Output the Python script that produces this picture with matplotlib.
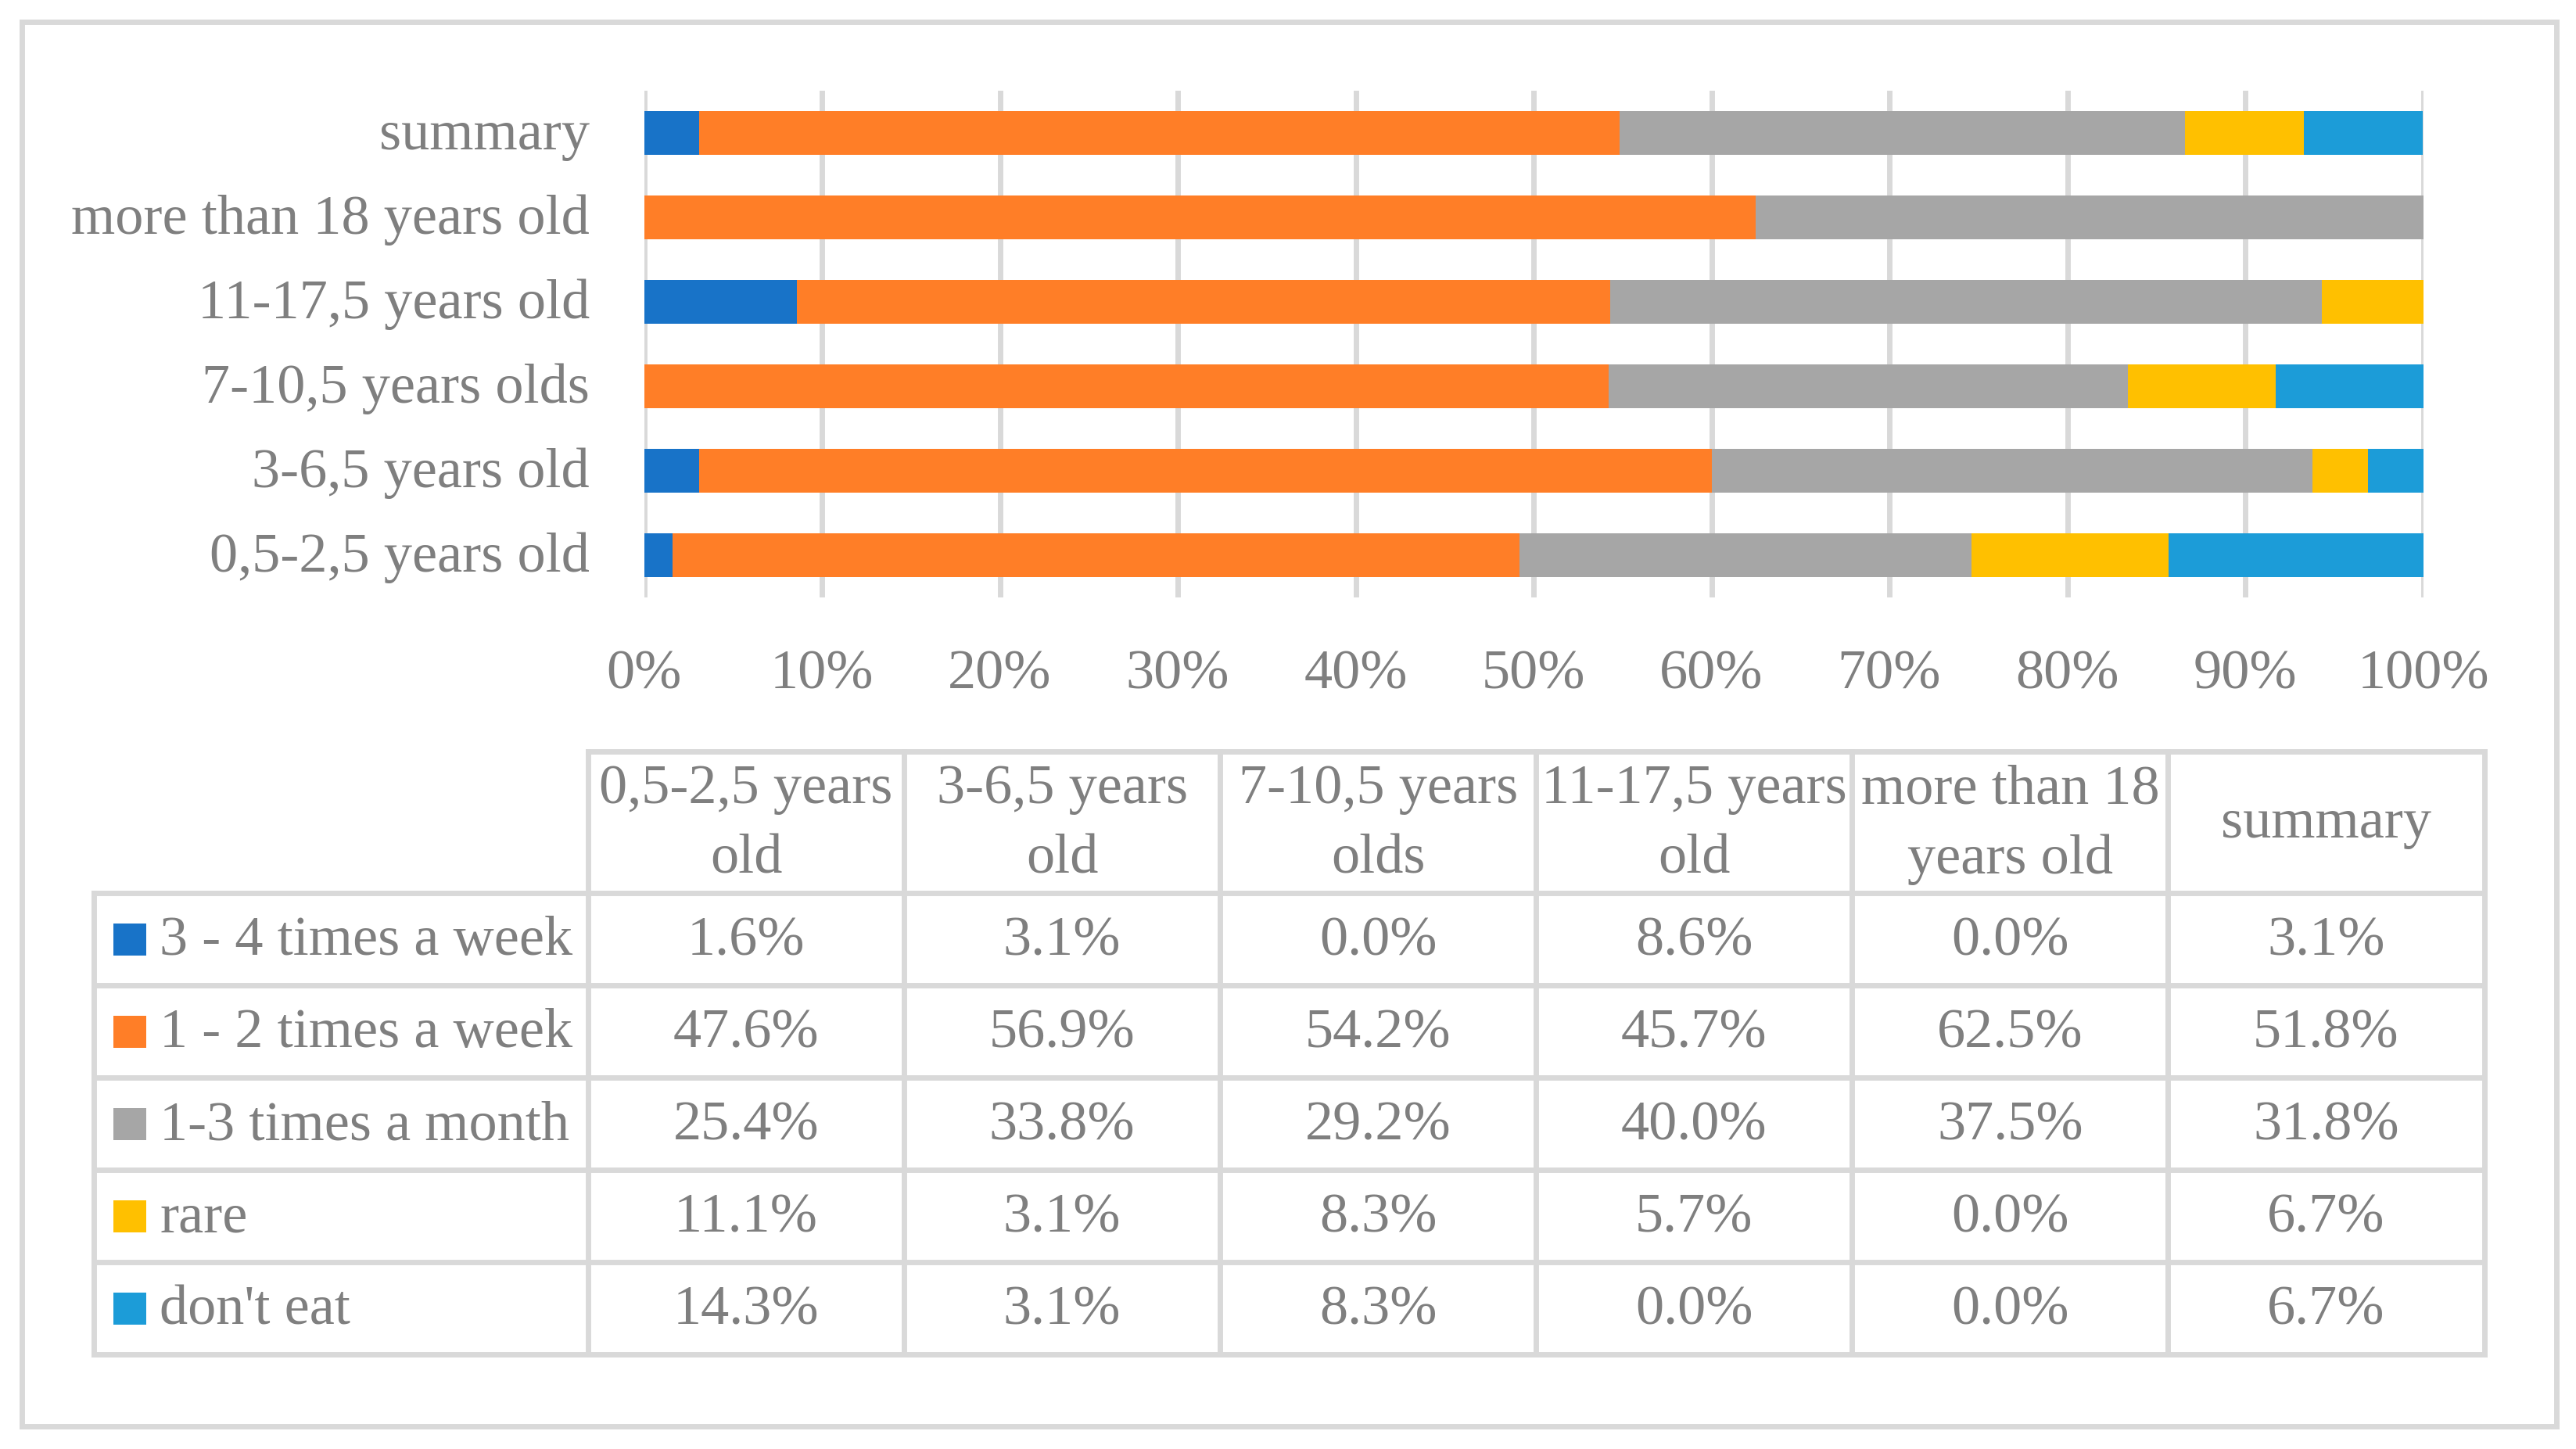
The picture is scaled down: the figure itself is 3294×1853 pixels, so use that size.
import matplotlib
matplotlib.use("Agg")
import matplotlib.pyplot as plt
import matplotlib.transforms as mtransforms
from matplotlib.patches import Rectangle
import numpy as np

# ---------------- data ----------------
categories = ["0,5-2,5 years old", "3-6,5 years old", "7-10,5 years olds",
              "11-17,5 years old", "more than 18 years old", "summary"]
header_lines = [["0,5-2,5 years", "old"], ["3-6,5 years", "old"], ["7-10,5 years", "olds"],
                ["11-17,5 years", "old"], ["more than 18", "years old"], ["summary"]]
series_names = ["3 - 4 times a week", "1 - 2 times a week", "1-3 times a month", "rare", "don't eat"]
v_34_week = [1.6, 3.1, 0.0, 8.6, 0.0, 3.1]
v_12_week = [47.6, 56.9, 54.2, 45.7, 62.5, 51.8]
v_13_month = [25.4, 33.8, 29.2, 40.0, 37.5, 31.8]
v_rare = [11.1, 3.1, 8.3, 5.7, 0.0, 6.7]
v_dont = [14.3, 3.1, 8.3, 0.0, 0.0, 6.7]
x_ticks = [0, 10, 20, 30, 40, 50, 60, 70, 80, 90, 100]
x_tick_labels = [f"{t}%" for t in x_ticks]

colors = ["#1873C8", "#FF7E27", "#A6A6A6", "#FFC000", "#1C9CD8"]
TXT = "#7F7F7F"
LINE = "#D9D9D9"
FONT = "Liberation Serif"
FS = 52

W, H = 3294, 1853
fig = plt.figure(figsize=(W / 100, H / 100), dpi=100)
fig.patch.set_facecolor("white")

# --------------- bar chart ---------------
ax_l, ax_r, ax_t, ax_b = 823.5, 3098.5, 116, 764
ax = fig.add_axes([ax_l / W, 1 - ax_b / H, (ax_r - ax_l) / W, (ax_b - ax_t) / H])
series = np.array([v_34_week, v_12_week, v_13_month, v_rare, v_dont])
totals = series.sum(axis=0)
frac = series / totals
y = np.arange(len(categories))
left = np.zeros(len(categories))
for i in range(len(series_names)):
    ax.barh(y, frac[i], left=left, height=0.52, color=colors[i], zorder=3, linewidth=0)
    left += frac[i]
ax.set_xlim(0, 1)
ax.set_ylim(-0.5, 5.5)
ax.set_xticks(np.array(x_ticks) / 100)
ax.set_xticklabels(x_tick_labels, fontfamily=FONT, fontsize=FS, color=TXT)
ax.set_yticks(y)
ax.set_yticklabels(categories, fontfamily=FONT, fontsize=FS, color=TXT)
ax.tick_params(axis="both", length=0)
ax.tick_params(axis="x", pad=48)
ax.tick_params(axis="y", pad=50)
shift = mtransforms.ScaledTranslation(0, 4 / 100, fig.dpi_scale_trans)
for lab in ax.get_yticklabels():
    lab.set_transform(lab.get_transform() + shift)
ax.grid(axis="x", color=LINE, linewidth=5.0, zorder=0)
ax.set_axisbelow(True)
for s in ax.spines.values():
    s.set_visible(False)

# --------------- overlay (table, border) ---------------
ov = fig.add_axes([0, 0, 1, 1], zorder=5)
ov.set_xlim(0, W)
ov.set_ylim(H, 0)
ov.axis("off")
ov.patch.set_alpha(0)
lw = 5.0

# outer border
ov.add_patch(Rectangle((27.5, 27.5), 3268.5 - 27.5, 1824 - 27.5, fill=False,
                       edgecolor=LINE, linewidth=lw))

# table geometry
x_leg = 119.5
x0 = 752.0
col_w = (3176.5 - 752.0) / 6
y_head_top = 961.0
y_head_bot = 1142.0
row_h = 118.0
n_rows = len(series_names)
y_bottom = y_head_bot + n_rows * row_h
col_x = [x0 + k * col_w for k in range(len(categories) + 1)]

ov.plot([x0, col_x[-1]], [y_head_top, y_head_top], color=LINE, lw=lw, solid_capstyle="projecting")
for r in range(n_rows + 1):
    yy = y_head_bot + r * row_h
    ov.plot([x_leg, col_x[-1]], [yy, yy], color=LINE, lw=lw, solid_capstyle="projecting")
ov.plot([x_leg, x_leg], [y_head_bot, y_bottom], color=LINE, lw=lw, solid_capstyle="projecting")
for cx in col_x:
    ov.plot([cx, cx], [y_head_top, y_bottom], color=LINE, lw=lw, solid_capstyle="projecting")

# header text
hc = (y_head_top + y_head_bot) / 2
for k, lines in enumerate(header_lines):
    cx = (col_x[k] + col_x[k + 1]) / 2
    if len(lines) == 2:
        ov.text(cx, hc - 24, lines[0], ha="center", va="baseline", fontfamily=FONT,
                fontsize=FS, color=TXT)
        ov.text(cx, hc + 65, lines[1], ha="center", va="baseline", fontfamily=FONT,
                fontsize=FS, color=TXT)
    else:
        ov.text(cx, hc + 20, lines[0], ha="center", va="baseline", fontfamily=FONT,
                fontsize=FS, color=TXT)

# rows
for r, name in enumerate(series_names):
    rc = y_head_bot + (r + 0.5) * row_h
    ov.add_patch(Rectangle((145, rc - 20.5), 42, 41, facecolor=colors[r], edgecolor="none"))
    ov.text(204, rc + 20, name, ha="left", va="baseline", fontfamily=FONT,
            fontsize=FS, color=TXT)
    for k in range(len(categories)):
        cx = (col_x[k] + col_x[k + 1]) / 2
        ov.text(cx, rc + 20, f"{series[r][k]:.1f}%", ha="center", va="baseline",
                fontfamily=FONT, fontsize=FS, color=TXT)

fig.savefig("out.png", dpi=100, facecolor="white")
